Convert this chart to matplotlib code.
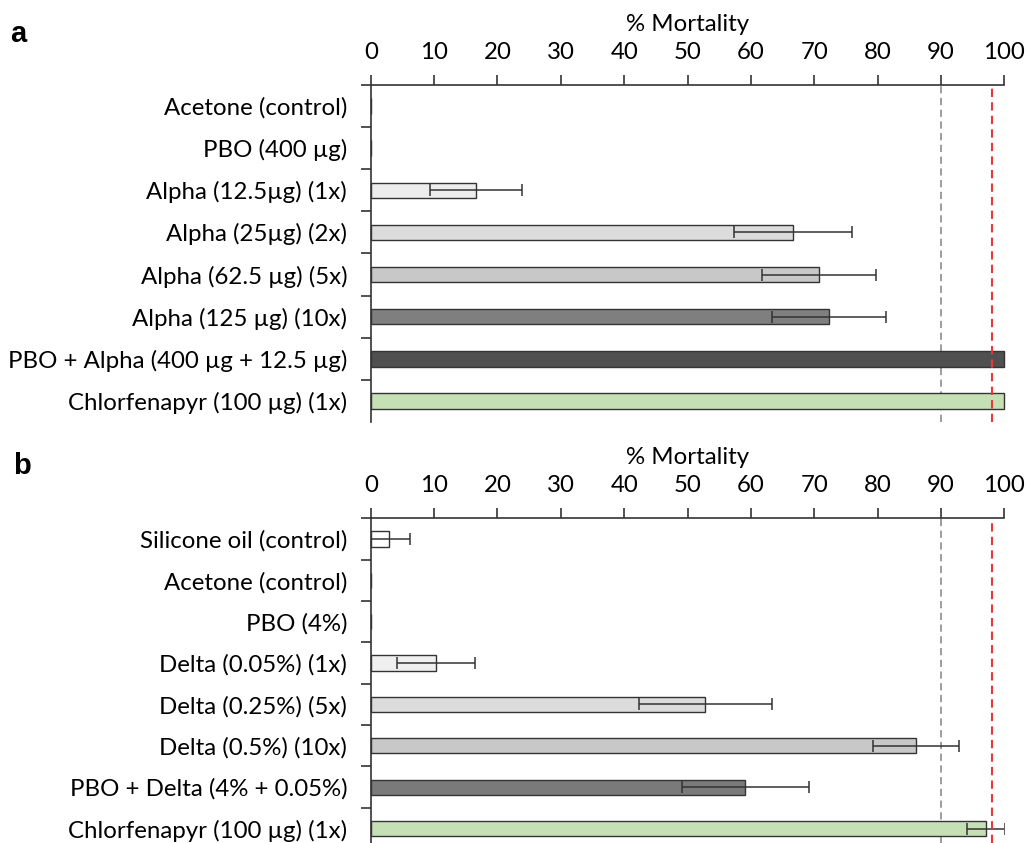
import numpy as np
import matplotlib
matplotlib.use('Agg')
import matplotlib.pyplot as plt

# panel a
labels_a = ['Acetone (control)', 'PBO (400 µg)', 'Alpha (12.5µg) (1x)', 'Alpha (25µg) (2x)',
            'Alpha (62.5 µg) (5x)', 'Alpha (125 µg) (10x)', 'PBO + Alpha (400 µg + 12.5 µg)',
            'Chlorfenapyr (100 µg) (1x)']
mort_a = [0, 0, 16.6, 66.7, 70.7, 72.3, 100, 100]
err_a = [0, 0, 7.3, 9.3, 9.0, 9.0, 0, 0]
colors_a = ['white', 'white', '#ececec', '#dcdcdc', '#c8c8c8', '#7f7f7f', '#505050', '#c5e0b4']

# panel b
labels_b = ['Silicone oil (control)', 'Acetone (control)', 'PBO (4%)', 'Delta (0.05%) (1x)',
            'Delta (0.25%) (5x)', 'Delta (0.5%) (10x)', 'PBO + Delta (4% + 0.05%)',
            'Chlorfenapyr (100 µg) (1x)']
mort_b = [2.9, 0, 0, 10.3, 52.8, 86.1, 59.1, 97.1]
err_b = [3.3, 0, 0, 6.2, 10.5, 6.8, 10.0, 3.0]
colors_b = ['white', 'white', 'white', '#efefef', '#dcdcdc', '#c8c8c8', '#7a7a7a', '#c5e0b4']

xticks = list(range(0, 101, 10))
thresholds = [90, 98]

plt.rcParams['font.family'] = ['Lato', 'DejaVu Sans']
dark = '#333333'
fs = 17.3

fig = plt.figure(figsize=(10.27, 8.43), dpi=100)
ax_a = fig.add_axes([0.361, 0.4994, 0.6169, 0.3998])
ax_b = fig.add_axes([0.361, 0.0, 0.6169, 0.3852])


def draw(ax, labels, vals, errs, colors, ybottom):
    y = np.arange(len(labels))
    ax.barh(y, vals, height=0.37, color=colors, edgecolor=dark, linewidth=1.0, clip_on=False, zorder=2)
    e = np.array(errs, dtype=float)
    mask = e > 0
    ax.errorbar(np.array(vals)[mask], y[mask], xerr=e[mask], fmt='none', ecolor=dark,
                elinewidth=1.1, capsize=4, capthick=1.1, zorder=3)
    ax.axvline(thresholds[0], color='#959595', lw=1.3, dashes=(4, 2.5), zorder=1)
    ax.axvline(thresholds[1], color='#e8383a', lw=1.5, dashes=(4, 2.5), zorder=4)
    ax.set_xlim(0, 100)
    ax.set_ylim(ybottom, -0.5)
    ax.xaxis.tick_top()
    ax.xaxis.set_label_position('top')
    ax.set_xticks(xticks)
    ax.set_xlabel('% Mortality', fontsize=fs, labelpad=8)
    ax.set_yticks(y)
    ax.set_yticklabels(labels)
    ax.set_yticks(np.arange(-0.5, ybottom, 1.0), minor=True)
    ax.tick_params(axis='y', which='major', length=0, pad=17, labelsize=fs)
    ax.tick_params(axis='y', which='minor', length=7, width=1.2, color=dark, direction='out')
    ax.tick_params(axis='x', length=7, width=1.2, color=dark, direction='out', pad=9, labelsize=fs)
    for s in ['right', 'bottom']:
        ax.spines[s].set_visible(False)
    for s in ['top', 'left']:
        ax.spines[s].set_color(dark)
        ax.spines[s].set_linewidth(1.2)


draw(ax_a, labels_a, mort_a, err_a, colors_a, 7.5)
draw(ax_b, labels_b, mort_b, err_b, colors_b, 7.35)

fig.text(0.010, 1 - 34 / 843, 'a', fontsize=21, fontweight='bold', family='Liberation Sans', va='center')
fig.text(0.013, 1 - 466 / 843, 'b', fontsize=21, fontweight='bold', family='Liberation Sans', va='center')

fig.savefig('out.png', dpi=100)
